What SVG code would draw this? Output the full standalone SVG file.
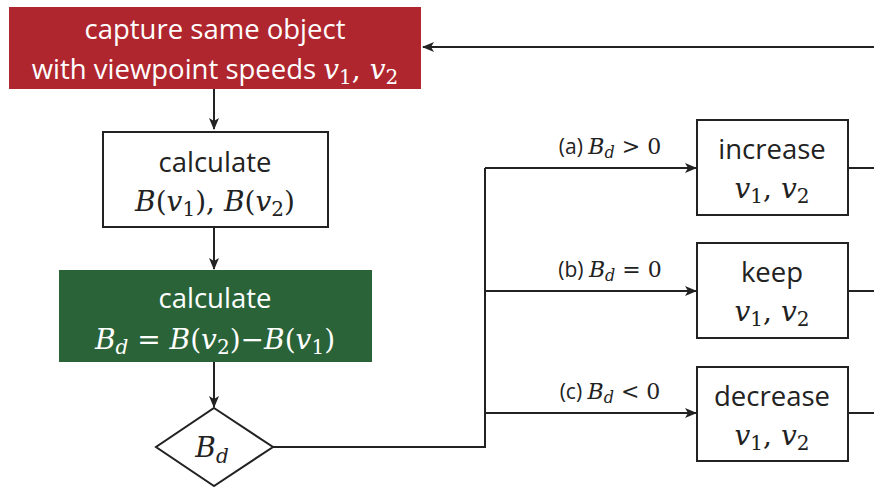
<svg xmlns="http://www.w3.org/2000/svg" width="874" height="487" viewBox="0 0 874 487">
<style>
.t{font-family:"Open Sans","Noto Sans",sans-serif;font-size:27.5px;fill:#222;}
.w{fill:#fff;}
.m{font-family:"DejaVu Serif",serif;font-style:italic;font-size:28px;}
.r{font-family:"DejaVu Serif",serif;font-style:normal;font-size:28px;}
.s{font-family:"DejaVu Serif",serif;font-style:normal;font-size:20px;}
.si{font-family:"DejaVu Serif",serif;font-style:italic;font-size:20px;}
.lb{font-family:"Open Sans","Noto Sans",sans-serif;font-size:21px;fill:#222;}
.lm{font-family:"DejaVu Serif",serif;font-style:italic;font-size:22px;}
.lr{font-family:"DejaVu Serif",serif;font-size:22px;}
.ls{font-family:"DejaVu Serif",serif;font-style:italic;font-size:16px;}
.box{fill:#fff;stroke:#222;stroke-width:2;}
.ln{fill:none;stroke:#222;stroke-width:2;}
</style>
<defs>
<marker id="ah" viewBox="0 0 12 10" refX="11" refY="5" markerWidth="12" markerHeight="10" markerUnits="userSpaceOnUse" orient="auto">
<path d="M0,0 L12,5 L0,10 L3,5 Z" fill="#222"/>
</marker>
</defs>
<g id="connectors">
<path class="ln" d="M874,47 L423,47" marker-end="url(#ah)"/>
<path class="ln" d="M214,89 L214,129" marker-end="url(#ah)"/>
<path class="ln" d="M214,227 L214,269" marker-end="url(#ah)"/>
<path class="ln" d="M214,362 L214,407" marker-end="url(#ah)"/>
<path class="ln" d="M273,447 L485,447 L485,168"/>
<path class="ln" d="M485,168 L696,168" marker-end="url(#ah)"/>
<path class="ln" d="M485,291 L696,291" marker-end="url(#ah)"/>
<path class="ln" d="M485,413 L696,413" marker-end="url(#ah)"/>
<path class="ln" d="M848,168 L874,168"/>
<path class="ln" d="M848,291 L874,291"/>
<path class="ln" d="M848,413 L874,413"/>
<text class="lb" x="610" y="154" text-anchor="middle">(a) <tspan class="lm">B</tspan><tspan class="ls" dy="4">d</tspan><tspan class="lr" dy="-4"> &gt; 0</tspan></text>
<text class="lb" x="610" y="277" text-anchor="middle">(b) <tspan class="lm">B</tspan><tspan class="ls" dy="4">d</tspan><tspan class="lr" dy="-4"> = 0</tspan></text>
<text class="lb" x="610" y="399" text-anchor="middle">(c) <tspan class="lm">B</tspan><tspan class="ls" dy="4">d</tspan><tspan class="lr" dy="-4"> &lt; 0</tspan></text>
</g>
<g id="capture">
<rect x="9" y="7" width="412" height="82" fill="#B0262F"/>
<text class="t w" x="215" y="39" text-anchor="middle">capture same object</text>
<text class="t w" x="215" y="79" text-anchor="middle">with viewpoint speeds <tspan class="m">v</tspan><tspan class="s" dy="5">1</tspan><tspan class="r" dy="-5">, </tspan><tspan class="m">v</tspan><tspan class="s" dy="5">2</tspan></text>
</g>
<g id="calcB">
<rect class="box" x="103" y="132" width="225" height="95"/>
<text class="t" x="215" y="172" text-anchor="middle">calculate</text>
<text class="t" x="215" y="211" text-anchor="middle"><tspan class="m">B</tspan><tspan class="r">(</tspan><tspan class="m">v</tspan><tspan class="s" dy="5">1</tspan><tspan class="r" dy="-5">), </tspan><tspan class="m">B</tspan><tspan class="r">(</tspan><tspan class="m">v</tspan><tspan class="s" dy="5">2</tspan><tspan class="r" dy="-5">)</tspan></text>
</g>
<g id="calcBd">
<rect x="59" y="270" width="313" height="92" fill="#2A6338"/>
<text class="t w" x="215" y="308" text-anchor="middle">calculate</text>
<text class="t w" x="215" y="349" text-anchor="middle"><tspan class="m">B</tspan><tspan class="si" dy="5">d</tspan><tspan class="r" dy="-5"> = </tspan><tspan class="m">B</tspan><tspan class="r">(</tspan><tspan class="m">v</tspan><tspan class="s" dy="5">2</tspan><tspan class="r" dy="-5">)−</tspan><tspan class="m">B</tspan><tspan class="r">(</tspan><tspan class="m">v</tspan><tspan class="s" dy="5">1</tspan><tspan class="r" dy="-5">)</tspan></text>
</g>
<g id="decision">
<path class="box" d="M214,408 L273,447 L214,486 L156,447 Z"/>
<text class="t" x="212" y="457" text-anchor="middle"><tspan class="m">B</tspan><tspan class="si" dy="6">d</tspan></text>
</g>
<g id="increase">
<rect class="box" x="697" y="120" width="151" height="95"/>
<text class="t" x="772" y="159" text-anchor="middle">increase</text>
<text class="t" x="772" y="198" text-anchor="middle"><tspan class="m">v</tspan><tspan class="s" dy="5">1</tspan><tspan class="r" dy="-5">, </tspan><tspan class="m">v</tspan><tspan class="s" dy="5">2</tspan></text>
</g>
<g id="keep">
<rect class="box" x="697" y="243" width="151" height="95"/>
<text class="t" x="772" y="282" text-anchor="middle">keep</text>
<text class="t" x="772" y="321" text-anchor="middle"><tspan class="m">v</tspan><tspan class="s" dy="5">1</tspan><tspan class="r" dy="-5">, </tspan><tspan class="m">v</tspan><tspan class="s" dy="5">2</tspan></text>
</g>
<g id="decrease">
<rect class="box" x="697" y="367" width="151" height="94"/>
<text class="t" x="772" y="406" text-anchor="middle">decrease</text>
<text class="t" x="772" y="445" text-anchor="middle"><tspan class="m">v</tspan><tspan class="s" dy="5">1</tspan><tspan class="r" dy="-5">, </tspan><tspan class="m">v</tspan><tspan class="s" dy="5">2</tspan></text>
</g>
</svg>
